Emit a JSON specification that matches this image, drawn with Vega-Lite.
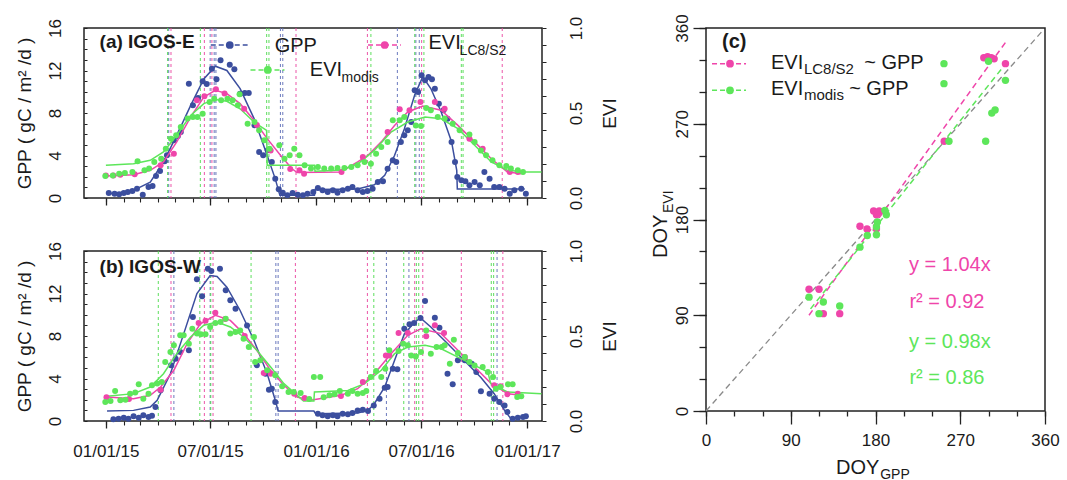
{
"$schema":"https://vega.github.io/schema/vega-lite/v6.json",
"background":"white",
"padding":{"left":14,"top":13,"right":5,"bottom":0},
"config":{
 "font":"Liberation Sans",
 "axis":{"domain":false,"grid":false,"labelFont":"Liberation Sans","titleFont":"Liberation Sans","labelColor":"#1a1a1a","titleColor":"#1a1a1a","tickColor":"#222222","titleFontWeight":"normal","labelOverlap":false,"labelFlush":false,"labelBound":false},
 "view":{"stroke":"#222222","strokeWidth":1.5},
 "text":{"font":"Liberation Sans","color":"#1a1a1a"}
},
"datasets":{
 "aG":[{"d":"2015-01-06","v":0.47},{"d":"2015-01-16","v":0.41},{"d":"2015-01-24","v":0.35},{"d":"2015-02-01","v":0.47},{"d":"2015-02-08","v":0.56},{"d":"2015-02-16","v":0.66},{"d":"2015-02-24","v":0.88},{"d":"2015-03-06","v":0.31},{"d":"2015-03-16","v":1.04},{"d":"2015-03-23","v":1.13},{"d":"2015-03-29","v":2.07},{"d":"2015-04-05","v":2.54},{"d":"2015-04-13","v":3.45},{"d":"2015-04-17","v":4.02},{"d":"2015-04-29","v":5.43},{"d":"2015-05-06","v":5.84},{"d":"2015-05-11","v":6.21},{"d":"2015-05-25","v":10.76},{"d":"2015-06-01","v":8.72},{"d":"2015-06-10","v":9.41},{"d":"2015-06-18","v":10.98},{"d":"2015-06-25","v":10.73},{"d":"2015-07-04","v":12.17},{"d":"2015-07-12","v":11.17},{"d":"2015-07-19","v":12.96},{"d":"2015-08-04","v":12.55},{"d":"2015-08-12","v":12.11},{"d":"2015-08-22","v":9.82},{"d":"2015-08-30","v":9.88},{"d":"2015-09-06","v":9.88},{"d":"2015-09-16","v":6.84},{"d":"2015-09-24","v":4.33},{"d":"2015-10-01","v":4.02},{"d":"2015-10-09","v":4.49},{"d":"2015-10-16","v":3.39},{"d":"2015-10-22","v":1.82},{"d":"2015-10-28","v":0.82},{"d":"2015-11-04","v":0.5},{"d":"2015-11-12","v":0.25},{"d":"2015-11-21","v":0.47},{"d":"2015-11-30","v":0.31},{"d":"2015-12-09","v":0.25},{"d":"2015-12-17","v":0.4},{"d":"2015-12-27","v":0.56},{"d":"2016-01-04","v":0.94},{"d":"2016-01-12","v":0.72},{"d":"2016-01-21","v":0.56},{"d":"2016-01-30","v":0.72},{"d":"2016-02-07","v":0.5},{"d":"2016-02-16","v":0.72},{"d":"2016-02-25","v":0.88},{"d":"2016-03-04","v":1.04},{"d":"2016-03-13","v":0.72},{"d":"2016-03-22","v":0.56},{"d":"2016-03-30","v":0.66},{"d":"2016-04-08","v":0.88},{"d":"2016-04-17","v":1.51},{"d":"2016-04-26","v":1.57},{"d":"2016-05-04","v":2.76},{"d":"2016-05-13","v":3.55},{"d":"2016-05-19","v":3.39},{"d":"2016-05-27","v":5.27},{"d":"2016-06-02","v":5.9},{"d":"2016-06-08","v":6.37},{"d":"2016-06-14","v":7.15},{"d":"2016-06-20","v":10.13},{"d":"2016-06-26","v":9.98},{"d":"2016-07-02","v":11.55},{"d":"2016-07-08","v":11.08},{"d":"2016-07-14","v":11.39},{"d":"2016-07-20","v":11.17},{"d":"2016-07-25","v":10.29},{"d":"2016-08-01","v":8.88},{"d":"2016-08-09","v":8.25},{"d":"2016-08-16","v":7.47},{"d":"2016-08-23","v":5.27},{"d":"2016-08-29","v":3.39},{"d":"2016-09-02","v":1.98},{"d":"2016-09-09","v":1.66},{"d":"2016-09-16","v":1.57},{"d":"2016-09-23","v":1.19},{"d":"2016-10-02","v":1.51},{"d":"2016-10-11","v":1.19},{"d":"2016-10-19","v":2.45},{"d":"2016-10-28","v":1.82},{"d":"2016-11-05","v":1.04},{"d":"2016-11-14","v":1.04},{"d":"2016-11-23","v":0.88},{"d":"2016-12-02","v":0.4},{"d":"2016-12-10","v":0.72},{"d":"2016-12-22","v":0.88},{"d":"2016-12-30","v":0.4}],
 "aL":[{"d":"2015-01-01","v":0.133},{"d":"2015-01-14","v":0.133},{"d":"2015-01-26","v":0.137},{"d":"2015-02-20","v":0.14},{"d":"2015-04-06","v":0.192},{"d":"2015-04-29","v":0.261},{"d":"2015-06-08","v":0.575},{"d":"2015-06-21","v":0.598},{"d":"2015-07-11","v":0.639},{"d":"2015-07-26","v":0.614},{"d":"2015-08-29","v":0.525},{"d":"2015-09-20","v":0.43},{"d":"2015-10-14","v":0.28},{"d":"2015-11-17","v":0.17},{"d":"2015-12-03","v":0.163},{"d":"2015-12-11","v":0.143},{"d":"2016-02-14","v":0.153},{"d":"2016-03-22","v":0.241},{"d":"2016-05-04","v":0.388},{"d":"2016-05-25","v":0.522},{"d":"2016-06-11","v":0.516},{"d":"2016-06-30","v":0.565},{"d":"2016-07-25","v":0.565},{"d":"2016-08-11","v":0.525},{"d":"2016-09-23","v":0.349},{"d":"2016-10-16","v":0.29},{"d":"2016-12-02","v":0.153},{"d":"2016-12-16","v":0.153}],
 "aM":[{"d":"2014-12-31","v":0.129},{"d":"2015-01-13","v":0.133},{"d":"2015-01-24","v":0.143},{"d":"2015-02-03","v":0.147},{"d":"2015-02-16","v":0.153},{"d":"2015-02-25","v":0.216},{"d":"2015-03-09","v":0.163},{"d":"2015-03-17","v":0.173},{"d":"2015-03-26","v":0.212},{"d":"2015-04-07","v":0.231},{"d":"2015-04-15","v":0.29},{"d":"2015-04-24","v":0.349},{"d":"2015-05-03","v":0.369},{"d":"2015-05-11","v":0.418},{"d":"2015-05-23","v":0.467},{"d":"2015-06-01","v":0.476},{"d":"2015-06-09","v":0.476},{"d":"2015-06-18","v":0.496},{"d":"2015-06-30","v":0.565},{"d":"2015-07-08","v":0.584},{"d":"2015-07-20","v":0.575},{"d":"2015-07-31","v":0.584},{"d":"2015-08-09","v":0.575},{"d":"2015-08-18","v":0.545},{"d":"2015-08-21","v":0.61},{"d":"2015-09-04","v":0.437},{"d":"2015-09-16","v":0.447},{"d":"2015-09-24","v":0.398},{"d":"2015-10-03","v":0.339},{"d":"2015-10-12","v":0.29},{"d":"2015-10-29","v":0.31},{"d":"2015-11-07","v":0.231},{"d":"2015-11-16","v":0.251},{"d":"2015-11-24","v":0.29},{"d":"2015-12-03","v":0.251},{"d":"2015-12-12","v":0.192},{"d":"2015-12-23","v":0.173},{"d":"2016-01-04","v":0.182},{"d":"2016-01-15","v":0.173},{"d":"2016-01-27","v":0.173},{"d":"2016-02-07","v":0.176},{"d":"2016-02-19","v":0.176},{"d":"2016-03-02","v":0.182},{"d":"2016-03-13","v":0.192},{"d":"2016-03-25","v":0.212},{"d":"2016-04-05","v":0.202},{"d":"2016-04-14","v":0.261},{"d":"2016-04-23","v":0.3},{"d":"2016-05-04","v":0.329},{"d":"2016-05-13","v":0.457},{"d":"2016-05-25","v":0.457},{"d":"2016-06-02","v":0.476},{"d":"2016-06-22","v":0.427},{"d":"2016-07-01","v":0.424},{"d":"2016-07-10","v":0.529},{"d":"2016-07-18","v":0.516},{"d":"2016-07-30","v":0.476},{"d":"2016-08-11","v":0.467},{"d":"2016-08-25","v":0.437},{"d":"2016-09-06","v":0.398},{"d":"2016-09-23","v":0.373},{"d":"2016-10-02","v":0.329},{"d":"2016-10-13","v":0.28},{"d":"2016-10-22","v":0.251},{"d":"2016-11-02","v":0.222},{"d":"2016-11-14","v":0.192},{"d":"2016-11-26","v":0.188},{"d":"2016-12-04","v":0.173},{"d":"2016-12-16","v":0.163},{"d":"2016-12-25","v":0.153}],
 "faG":[{"d":"2015-01-03","v":0.41},{"d":"2015-01-25","v":0.5},{"d":"2015-02-18","v":0.72},{"d":"2015-03-19","v":1.5},{"d":"2015-04-11","v":3.4},{"d":"2015-05-04","v":5.9},{"d":"2015-05-28","v":8.7},{"d":"2015-06-20","v":11.2},{"d":"2015-07-10","v":12.4},{"d":"2015-07-30","v":12.0},{"d":"2015-08-22","v":10.3},{"d":"2015-09-15","v":7.5},{"d":"2015-10-08","v":4.0},{"d":"2015-10-22","v":1.8},{"d":"2015-10-30","v":0.25},{"d":"2015-12-29","v":0.25},{"d":"2015-12-30","v":0.8},{"d":"2016-03-13","v":0.85},{"d":"2016-04-11","v":1.25},{"d":"2016-04-29","v":2.13},{"d":"2016-05-16","v":4.0},{"d":"2016-06-02","v":6.5},{"d":"2016-06-20","v":9.7},{"d":"2016-07-04","v":11.4},{"d":"2016-07-18","v":10.3},{"d":"2016-08-05","v":8.1},{"d":"2016-08-23","v":5.3},{"d":"2016-09-01","v":2.6},{"d":"2016-09-02","v":0.85},{"d":"2016-12-28","v":0.85}],
 "faL":[{"d":"2015-01-01","v":0.129},{"d":"2015-02-18","v":0.137},{"d":"2015-03-19","v":0.163},{"d":"2015-04-11","v":0.212},{"d":"2015-05-04","v":0.33},{"d":"2015-05-28","v":0.476},{"d":"2015-06-20","v":0.594},{"d":"2015-07-10","v":0.633},{"d":"2015-07-30","v":0.614},{"d":"2015-08-22","v":0.555},{"d":"2015-09-15","v":0.457},{"d":"2015-10-08","v":0.349},{"d":"2015-10-31","v":0.251},{"d":"2015-11-20","v":0.172},{"d":"2015-11-29","v":0.15},{"d":"2016-02-13","v":0.153},{"d":"2016-03-13","v":0.212},{"d":"2016-03-31","v":0.251},{"d":"2016-04-23","v":0.33},{"d":"2016-05-16","v":0.427},{"d":"2016-06-08","v":0.506},{"d":"2016-07-04","v":0.541},{"d":"2016-08-05","v":0.516},{"d":"2016-09-03","v":0.427},{"d":"2016-10-02","v":0.33},{"d":"2016-10-31","v":0.231},{"d":"2016-11-28","v":0.153},{"d":"2016-12-22","v":0.143}],
 "faM":[{"d":"2015-01-01","v":0.192},{"d":"2015-02-18","v":0.202},{"d":"2015-03-19","v":0.222},{"d":"2015-04-11","v":0.271},{"d":"2015-05-04","v":0.369},{"d":"2015-05-28","v":0.486},{"d":"2015-06-20","v":0.555},{"d":"2015-07-10","v":0.58},{"d":"2015-07-30","v":0.569},{"d":"2015-08-22","v":0.525},{"d":"2015-09-15","v":0.447},{"d":"2015-10-07","v":0.398},{"d":"2015-10-08","v":0.192},{"d":"2015-12-29","v":0.192},{"d":"2015-12-30","v":0.157},{"d":"2016-02-13","v":0.165},{"d":"2016-03-13","v":0.2},{"d":"2016-04-11","v":0.28},{"d":"2016-05-10","v":0.388},{"d":"2016-06-08","v":0.447},{"d":"2016-07-08","v":0.476},{"d":"2016-08-05","v":0.466},{"d":"2016-09-03","v":0.408},{"d":"2016-10-02","v":0.31},{"d":"2016-10-31","v":0.212},{"d":"2016-11-28","v":0.163},{"d":"2016-12-28","v":0.153},{"d":"2017-01-26","v":0.153}],
 "pa":[{"s":"GPP","d":"2015-04-20"},{"s":"GPP","d":"2015-07-01"},{"s":"GPP","d":"2015-07-08"},{"s":"GPP","d":"2015-07-11"},{"s":"GPP","d":"2015-10-31"},{"s":"GPP","d":"2015-11-04"},{"s":"GPP","d":"2016-05-21"},{"s":"GPP","d":"2016-06-22"},{"s":"GPP","d":"2016-06-28"},{"s":"LC8","d":"2015-04-24"},{"s":"LC8","d":"2015-06-21"},{"s":"LC8","d":"2015-07-04"},{"s":"LC8","d":"2015-11-27"},{"s":"LC8","d":"2016-03-30"},{"s":"LC8","d":"2016-07-02"},{"s":"LC8","d":"2016-11-19"},{"s":"MODIS","d":"2015-04-18"},{"s":"MODIS","d":"2015-06-14"},{"s":"MODIS","d":"2015-10-07"},{"s":"MODIS","d":"2015-10-11"},{"s":"MODIS","d":"2016-04-05"},{"s":"MODIS","d":"2016-06-20"},{"s":"MODIS","d":"2016-07-06"},{"s":"MODIS","d":"2016-09-09"},{"s":"MODIS","d":"2016-09-12"}],
 "bG":[{"d":"2015-01-14","v":0.16},{"d":"2015-01-23","v":0.22},{"d":"2015-02-01","v":0.31},{"d":"2015-02-09","v":0.22},{"d":"2015-02-18","v":0.44},{"d":"2015-02-27","v":0.31},{"d":"2015-03-07","v":0.53},{"d":"2015-03-16","v":0.38},{"d":"2015-03-22","v":0.5},{"d":"2015-03-28","v":1.32},{"d":"2015-04-06","v":2.89},{"d":"2015-04-24","v":5.24},{"d":"2015-05-02","v":5.86},{"d":"2015-05-10","v":6.49},{"d":"2015-05-25","v":6.65},{"d":"2015-06-01","v":9.79},{"d":"2015-06-08","v":13.33},{"d":"2015-06-17","v":11.73},{"d":"2015-06-27","v":14.33},{"d":"2015-07-03","v":14.12},{"d":"2015-07-18","v":14.33},{"d":"2015-07-28","v":12.3},{"d":"2015-08-05","v":11.36},{"d":"2015-08-14","v":10.57},{"d":"2015-09-03","v":9.0},{"d":"2015-09-20","v":5.24},{"d":"2015-10-05","v":4.45},{"d":"2015-10-11","v":2.95},{"d":"2015-10-16","v":3.04},{"d":"2015-10-22","v":1.79},{"d":"2016-01-04","v":0.69},{"d":"2016-01-12","v":0.53},{"d":"2016-01-21","v":0.44},{"d":"2016-01-30","v":0.53},{"d":"2016-02-07","v":0.44},{"d":"2016-02-16","v":0.69},{"d":"2016-02-25","v":0.63},{"d":"2016-03-04","v":0.75},{"d":"2016-03-13","v":1.0},{"d":"2016-03-22","v":1.07},{"d":"2016-03-31","v":0.94},{"d":"2016-04-10","v":1.47},{"d":"2016-04-20","v":2.1},{"d":"2016-04-29","v":3.14},{"d":"2016-05-04","v":3.2},{"d":"2016-05-13","v":4.92},{"d":"2016-05-21","v":4.86},{"d":"2016-06-02","v":8.69},{"d":"2016-06-11","v":9.1},{"d":"2016-06-19","v":9.22},{"d":"2016-06-30","v":9.69},{"d":"2016-07-08","v":11.29},{"d":"2016-07-25","v":9.72},{"d":"2016-08-02","v":8.78},{"d":"2016-08-16","v":4.45},{"d":"2016-08-25","v":3.45},{"d":"2016-09-03","v":5.71},{"d":"2016-09-15","v":5.71},{"d":"2016-09-27","v":5.39},{"d":"2016-10-05","v":4.61},{"d":"2016-10-13","v":2.79},{"d":"2016-10-28","v":2.57},{"d":"2016-11-05","v":2.1},{"d":"2016-11-14","v":1.79},{"d":"2016-11-23","v":1.47},{"d":"2016-11-28","v":0.85},{"d":"2016-12-07","v":0.22},{"d":"2016-12-16","v":0.31},{"d":"2016-12-25","v":0.38},{"d":"2016-12-30","v":0.44}],
 "bL":[{"d":"2015-01-02","v":0.14},{"d":"2015-02-10","v":0.13},{"d":"2015-04-06","v":0.184},{"d":"2015-06-11","v":0.576},{"d":"2015-06-23","v":0.59},{"d":"2015-07-10","v":0.637},{"d":"2015-07-27","v":0.6},{"d":"2015-08-30","v":0.5},{"d":"2015-10-02","v":0.282},{"d":"2015-10-14","v":0.278},{"d":"2015-11-24","v":0.16},{"d":"2015-12-12","v":0.135},{"d":"2016-02-13","v":0.147},{"d":"2016-03-22","v":0.229},{"d":"2016-05-01","v":0.386},{"d":"2016-05-07","v":0.386},{"d":"2016-05-23","v":0.518},{"d":"2016-06-08","v":0.518},{"d":"2016-07-10","v":0.498},{"d":"2016-07-25","v":0.563},{"d":"2016-08-10","v":0.518},{"d":"2016-09-15","v":0.376},{"d":"2016-11-05","v":0.21},{"d":"2016-11-16","v":0.204},{"d":"2016-11-28","v":0.157},{"d":"2016-12-16","v":0.161}],
 "bM":[{"d":"2014-12-31","v":0.112},{"d":"2015-01-09","v":0.118},{"d":"2015-01-17","v":0.176},{"d":"2015-01-26","v":0.122},{"d":"2015-02-04","v":0.125},{"d":"2015-02-12","v":0.161},{"d":"2015-02-21","v":0.167},{"d":"2015-02-27","v":0.216},{"d":"2015-03-07","v":0.131},{"d":"2015-03-16","v":0.161},{"d":"2015-03-22","v":0.21},{"d":"2015-03-31","v":0.22},{"d":"2015-04-08","v":0.229},{"d":"2015-04-14","v":0.347},{"d":"2015-04-23","v":0.406},{"d":"2015-04-29","v":0.445},{"d":"2015-05-10","v":0.504},{"d":"2015-05-16","v":0.504},{"d":"2015-05-25","v":0.455},{"d":"2015-05-31","v":0.543},{"d":"2015-06-08","v":0.514},{"d":"2015-06-15","v":0.51},{"d":"2015-06-23","v":0.51},{"d":"2015-07-01","v":0.553},{"d":"2015-07-10","v":0.576},{"d":"2015-07-19","v":0.582},{"d":"2015-07-28","v":0.602},{"d":"2015-08-05","v":0.514},{"d":"2015-08-14","v":0.524},{"d":"2015-08-22","v":0.533},{"d":"2015-08-28","v":0.484},{"d":"2015-09-06","v":0.435},{"d":"2015-09-15","v":0.494},{"d":"2015-09-17","v":0.347},{"d":"2015-09-26","v":0.357},{"d":"2015-10-08","v":0.298},{"d":"2015-10-22","v":0.269},{"d":"2015-11-03","v":0.204},{"d":"2015-11-14","v":0.171},{"d":"2015-11-23","v":0.171},{"d":"2015-12-05","v":0.165},{"d":"2015-12-20","v":0.13},{"d":"2015-12-28","v":0.259},{"d":"2016-01-08","v":0.259},{"d":"2016-01-14","v":0.14},{"d":"2016-01-24","v":0.151},{"d":"2016-02-02","v":0.157},{"d":"2016-02-11","v":0.176},{"d":"2016-02-25","v":0.161},{"d":"2016-03-04","v":0.176},{"d":"2016-03-13","v":0.161},{"d":"2016-03-22","v":0.165},{"d":"2016-03-28","v":0.176},{"d":"2016-04-05","v":0.259},{"d":"2016-04-14","v":0.294},{"d":"2016-04-23","v":0.259},{"d":"2016-04-30","v":0.308},{"d":"2016-05-07","v":0.416},{"d":"2016-05-23","v":0.412},{"d":"2016-05-31","v":0.455},{"d":"2016-06-08","v":0.445},{"d":"2016-06-14","v":0.386},{"d":"2016-06-22","v":0.38},{"d":"2016-07-01","v":0.406},{"d":"2016-07-10","v":0.533},{"d":"2016-07-18","v":0.396},{"d":"2016-07-28","v":0.435},{"d":"2016-08-06","v":0.435},{"d":"2016-08-11","v":0.445},{"d":"2016-08-20","v":0.337},{"d":"2016-08-27","v":0.478},{"d":"2016-09-03","v":0.4},{"d":"2016-09-15","v":0.376},{"d":"2016-09-23","v":0.347},{"d":"2016-10-02","v":0.327},{"d":"2016-10-16","v":0.318},{"d":"2016-10-25","v":0.288},{"d":"2016-11-03","v":0.259},{"d":"2016-11-08","v":0.19},{"d":"2016-11-16","v":0.2},{"d":"2016-11-29","v":0.216},{"d":"2016-12-07","v":0.216},{"d":"2016-12-15","v":0.141},{"d":"2016-12-22","v":0.145}],
 "fbG":[{"d":"2015-01-03","v":0.94},{"d":"2015-02-18","v":1.0},{"d":"2015-03-19","v":1.32},{"d":"2015-03-31","v":1.95},{"d":"2015-04-23","v":4.45},{"d":"2015-05-16","v":8.2},{"d":"2015-06-08","v":12.0},{"d":"2015-07-01","v":13.7},{"d":"2015-07-13","v":13.6},{"d":"2015-07-30","v":12.6},{"d":"2015-08-22","v":10.4},{"d":"2015-09-15","v":7.6},{"d":"2015-10-08","v":4.45},{"d":"2015-10-22","v":1.95},{"d":"2015-10-27","v":0.94},{"d":"2015-12-28","v":0.94},{"d":"2015-12-31","v":0.69},{"d":"2016-03-13","v":0.75},{"d":"2016-03-31","v":1.0},{"d":"2016-04-11","v":1.63},{"d":"2016-04-29","v":3.2},{"d":"2016-05-16","v":5.7},{"d":"2016-06-02","v":8.2},{"d":"2016-06-20","v":9.3},{"d":"2016-06-30","v":9.7},{"d":"2016-07-18","v":8.85},{"d":"2016-08-16","v":7.3},{"d":"2016-09-14","v":5.7},{"d":"2016-10-13","v":4.1},{"d":"2016-11-05","v":2.57},{"d":"2016-11-23","v":1.0},{"d":"2016-12-04","v":0.22},{"d":"2016-12-10","v":0.22}],
 "fbL":[{"d":"2015-01-03","v":0.141},{"d":"2015-02-18","v":0.131},{"d":"2015-03-19","v":0.151},{"d":"2015-04-06","v":0.2},{"d":"2015-04-29","v":0.298},{"d":"2015-05-22","v":0.455},{"d":"2015-06-14","v":0.572},{"d":"2015-07-10","v":0.622},{"d":"2015-08-05","v":0.592},{"d":"2015-08-28","v":0.514},{"d":"2015-09-20","v":0.416},{"d":"2015-10-14","v":0.298},{"d":"2015-11-06","v":0.21},{"d":"2015-11-29","v":0.141},{"d":"2015-12-22","v":0.122},{"d":"2016-02-13","v":0.151},{"d":"2016-03-13","v":0.19},{"d":"2016-04-11","v":0.278},{"d":"2016-05-10","v":0.396},{"d":"2016-06-08","v":0.504},{"d":"2016-07-01","v":0.543},{"d":"2016-08-05","v":0.514},{"d":"2016-09-03","v":0.416},{"d":"2016-10-02","v":0.318},{"d":"2016-10-31","v":0.22},{"d":"2016-11-28","v":0.161},{"d":"2016-12-22","v":0.151}],
 "fbM":[{"d":"2015-01-03","v":0.145},{"d":"2015-02-18","v":0.161},{"d":"2015-03-19","v":0.2},{"d":"2015-04-11","v":0.278},{"d":"2015-05-04","v":0.396},{"d":"2015-05-28","v":0.494},{"d":"2015-06-20","v":0.563},{"d":"2015-07-13","v":0.582},{"d":"2015-08-05","v":0.553},{"d":"2015-08-28","v":0.494},{"d":"2015-09-20","v":0.416},{"d":"2015-10-14","v":0.318},{"d":"2015-11-06","v":0.22},{"d":"2015-11-29","v":0.151},{"d":"2015-12-10","v":0.118},{"d":"2015-12-28","v":0.118},{"d":"2015-12-29","v":0.171},{"d":"2016-02-25","v":0.18},{"d":"2016-03-25","v":0.22},{"d":"2016-04-23","v":0.298},{"d":"2016-05-16","v":0.396},{"d":"2016-06-08","v":0.435},{"d":"2016-07-08","v":0.445},{"d":"2016-08-05","v":0.425},{"d":"2016-09-03","v":0.376},{"d":"2016-10-02","v":0.327},{"d":"2016-10-25","v":0.288},{"d":"2016-10-30","v":0.22},{"d":"2016-11-28","v":0.171},{"d":"2017-01-26","v":0.161}],
 "pb":[{"s":"GPP","d":"2015-04-29"},{"s":"GPP","d":"2015-07-01"},{"s":"GPP","d":"2015-10-23"},{"s":"GPP","d":"2015-10-27"},{"s":"GPP","d":"2016-05-02"},{"s":"GPP","d":"2016-06-10"},{"s":"GPP","d":"2016-11-10"},{"s":"LC8","d":"2015-04-24"},{"s":"LC8","d":"2015-06-21"},{"s":"LC8","d":"2015-07-06"},{"s":"LC8","d":"2015-11-26"},{"s":"LC8","d":"2016-03-30"},{"s":"LC8","d":"2016-06-20"},{"s":"LC8","d":"2016-07-04"},{"s":"LC8","d":"2016-09-09"},{"s":"LC8","d":"2016-11-20"},{"s":"MODIS","d":"2015-04-02"},{"s":"MODIS","d":"2015-06-13"},{"s":"MODIS","d":"2015-07-02"},{"s":"MODIS","d":"2015-09-10"},{"s":"MODIS","d":"2016-04-10"},{"s":"MODIS","d":"2016-06-01"},{"s":"MODIS","d":"2016-06-23"},{"s":"MODIS","d":"2016-06-27"},{"s":"MODIS","d":"2016-10-31"},{"s":"MODIS","d":"2016-11-04"}],
 "cL":[{"g":295,"e":332},{"g":299,"e":333},{"g":303,"e":332},{"g":306,"e":331},{"g":318,"e":326.5},{"g":253,"e":253.5},{"g":178,"e":188},{"g":184,"e":188},{"g":181,"e":184.5},{"g":163.5,"e":173.6},{"g":171,"e":171},{"g":181,"e":171},{"g":109.4,"e":114.4},{"g":120,"e":114.4},{"g":124.6,"e":91.5},{"g":142,"e":91.5}],
 "cM":[{"g":252.7,"e":326.5},{"g":252.7,"e":307.7},{"g":300,"e":328.7},{"g":318,"e":310.8},{"g":303.5,"e":280},{"g":307,"e":283},{"g":297,"e":253.5},{"g":258,"e":253.5},{"g":191.5,"e":184.5},{"g":190,"e":188.6},{"g":182,"e":177.6},{"g":181,"e":173},{"g":181,"e":165.7},{"g":171.3,"e":165},{"g":163.5,"e":154},{"g":109.4,"e":107},{"g":124.6,"e":102.5},{"g":120,"e":91.5},{"g":142,"e":98.7}],
 "rL":[{"g":109.4,"e":90},{"g":319.6,"e":348.4}],
 "rM":[{"g":111,"e":96},{"g":315.4,"e":323.3}],
 "r1":[{"g":0,"e":0},{"g":357,"e":357}]
},
"hconcat":[
 {"vconcat":[
  {"width":458,"height":170,
   "layer":[
    {"data":{"name":"pa"},"mark":{"type":"rule","strokeDash":[3,3],"strokeWidth":1.1,"opacity":0.85},
     "encoding":{"x":{"field":"d","type":"temporal","scale":{"domain":[{"year":2014,"month":11,"date":24},{"year":2017,"month":1,"date":27}]},
       "axis":{"orient":"bottom","values":[{"year":2015,"month":1,"date":1},{"year":2015,"month":7,"date":1},{"year":2016,"month":1,"date":1},{"year":2016,"month":7,"date":1},{"year":2017,"month":1,"date":1}],"labels":false,"tickSize":7,"tickWidth":1.3,"title":null}},
      "color":{"field":"s","type":"nominal","scale":{"domain":["GPP","LC8","MODIS"],"range":["#6070b8","#ea4aa2","#52dc52"]},"legend":null}}},
    {"data":{"name":"faG"},"mark":{"type":"line","color":"#3b4e9e","strokeWidth":1.5},
     "encoding":{"x":{"field":"d","type":"temporal","axis":null},
      "y":{"field":"v","type":"quantitative","scale":{"domain":[0,16],"nice":false},
       "axis":{"orient":"left","values":[0,1,2,3,4,5,6,7,8,9,10,11,12,13,14,15,16],"labelExpr":"datum.value % 4 === 0 ? datum.label : ''","tickSize":-3,"labelAngle":270,"labelAlign":"center","labelBaseline":"alphabetic","labelPadding":27,"labelFontSize":17,"title":"GPP ( gC / m² /d )","titleFontSize":19,"titlePadding":12}}}},
    {"data":{"name":"aG"},"mark":{"type":"circle","color":"#3b4e9e","size":36,"opacity":1},
     "encoding":{"x":{"field":"d","type":"temporal","axis":null},"y":{"field":"v","type":"quantitative","scale":{"domain":[0,16],"nice":false},"axis":null}}},
    {"data":{"name":"faL"},"mark":{"type":"line","color":"#ef45aa","strokeWidth":1.5},
     "encoding":{"x":{"field":"d","type":"temporal",
       "axis":{"orient":"bottom","values":[{"year":2015,"month":1,"date":1},{"year":2015,"month":2,"date":1},{"year":2015,"month":3,"date":1},{"year":2015,"month":4,"date":1},{"year":2015,"month":5,"date":1},{"year":2015,"month":6,"date":1},{"year":2015,"month":7,"date":1},{"year":2015,"month":8,"date":1},{"year":2015,"month":9,"date":1},{"year":2015,"month":10,"date":1},{"year":2015,"month":11,"date":1},{"year":2015,"month":12,"date":1},{"year":2016,"month":1,"date":1},{"year":2016,"month":2,"date":1},{"year":2016,"month":3,"date":1},{"year":2016,"month":4,"date":1},{"year":2016,"month":5,"date":1},{"year":2016,"month":6,"date":1},{"year":2016,"month":7,"date":1},{"year":2016,"month":8,"date":1},{"year":2016,"month":9,"date":1},{"year":2016,"month":10,"date":1},{"year":2016,"month":11,"date":1},{"year":2016,"month":12,"date":1},{"year":2017,"month":1,"date":1}],"labels":false,"tickSize":4,"tickWidth":1.1,"title":null}},
      "y":{"field":"v","type":"quantitative","scale":{"domain":[0,1],"nice":false},
       "axis":{"orient":"right","values":[0,0.1,0.2,0.3,0.4,0.5,0.6,0.7,0.8,0.9,1],"format":".1f","labelExpr":"datum.value === 0 || datum.value === 0.5 || datum.value === 1 ? datum.label : ''","tickSize":4,"labelAngle":270,"labelAlign":"center","labelBaseline":"top","labelPadding":22,"labelFontSize":17,"title":"EVI","titleFontSize":19,"titleAngle":270,"titlePadding":35}}}},
    {"data":{"name":"faM"},"mark":{"type":"line","color":"#5de65a","strokeWidth":1.5},
     "encoding":{"x":{"field":"d","type":"temporal","axis":null},"y":{"field":"v","type":"quantitative","scale":{"domain":[0,1],"nice":false},"axis":null}}},
    {"data":{"name":"aL"},"mark":{"type":"circle","color":"#ef45aa","size":36,"opacity":1},
     "encoding":{"x":{"field":"d","type":"temporal","axis":null},"y":{"field":"v","type":"quantitative","scale":{"domain":[0,1],"nice":false},"axis":null}}},
    {"data":{"name":"aM"},"mark":{"type":"circle","color":"#5de65a","size":36,"opacity":1},
     "encoding":{"x":{"field":"d","type":"temporal","axis":null},"y":{"field":"v","type":"quantitative","scale":{"domain":[0,1],"nice":false},"axis":null}}},
    {"data":{"values":[{}]},"mark":{"type":"text","text":"(a) IGOS-E","fontSize":19,"fontWeight":"bold","align":"left","baseline":"middle"},
     "encoding":{"x":{"datum":{"year":2014,"month":12,"date":21},"type":"temporal","axis":null},"y":{"datum":14.7,"type":"quantitative","scale":{"domain":[0,16],"nice":false},"axis":null}}},
    {"data":{"values":[{}]},"mark":{"type":"rule","color":"#3b4e9e","strokeDash":[5,3],"strokeWidth":1.5},
     "encoding":{"x":{"datum":{"year":2015,"month":7,"date":2},"type":"temporal","axis":null},"x2":{"datum":{"year":2015,"month":9,"date":4}},"y":{"datum":14.4,"type":"quantitative","scale":{"domain":[0,16],"nice":false},"axis":null}}},
    {"data":{"values":[{}]},"mark":{"type":"circle","color":"#3b4e9e","size":60,"opacity":1},
     "encoding":{"x":{"datum":{"year":2015,"month":8,"date":4},"type":"temporal","axis":null},"y":{"datum":14.4,"type":"quantitative","scale":{"domain":[0,16],"nice":false},"axis":null}}},
    {"data":{"values":[{}]},"mark":{"type":"text","text":"GPP","fontSize":20,"align":"left","baseline":"middle"},
     "encoding":{"x":{"datum":{"year":2015,"month":10,"date":21},"type":"temporal","axis":null},"y":{"datum":14.3,"type":"quantitative","scale":{"domain":[0,16],"nice":false},"axis":null}}},
    {"data":{"values":[{}]},"mark":{"type":"rule","color":"#5de65a","strokeDash":[5,3],"strokeWidth":1.5},
     "encoding":{"x":{"datum":{"year":2015,"month":9,"date":9},"type":"temporal","axis":null},"x2":{"datum":{"year":2015,"month":11,"date":7}},"y":{"datum":12.05,"type":"quantitative","scale":{"domain":[0,16],"nice":false},"axis":null}}},
    {"data":{"values":[{}]},"mark":{"type":"circle","color":"#5de65a","size":60,"opacity":1},
     "encoding":{"x":{"datum":{"year":2015,"month":10,"date":9},"type":"temporal","axis":null},"y":{"datum":12.05,"type":"quantitative","scale":{"domain":[0,16],"nice":false},"axis":null}}},
    {"data":{"values":[{}]},"mark":{"type":"text","text":"EVI","fontSize":20,"align":"left","baseline":"middle"},
     "encoding":{"x":{"datum":{"year":2015,"month":12,"date":21},"type":"temporal","axis":null},"y":{"datum":12.05,"type":"quantitative","scale":{"domain":[0,16],"nice":false},"axis":null}}},
    {"data":{"values":[{}]},"mark":{"type":"text","text":"modis","fontSize":14,"align":"left","baseline":"middle"},
     "encoding":{"x":{"datum":{"year":2016,"month":2,"date":14},"type":"temporal","axis":null},"y":{"datum":11.3,"type":"quantitative","scale":{"domain":[0,16],"nice":false},"axis":null}}},
    {"data":{"values":[{}]},"mark":{"type":"rule","color":"#ef45aa","strokeDash":[5,3],"strokeWidth":1.5},
     "encoding":{"x":{"datum":{"year":2016,"month":3,"date":31},"type":"temporal","axis":null},"x2":{"datum":{"year":2016,"month":5,"date":27}},"y":{"datum":14.4,"type":"quantitative","scale":{"domain":[0,16],"nice":false},"axis":null}}},
    {"data":{"values":[{}]},"mark":{"type":"circle","color":"#ef45aa","size":60,"opacity":1},
     "encoding":{"x":{"datum":{"year":2016,"month":4,"date":29},"type":"temporal","axis":null},"y":{"datum":14.4,"type":"quantitative","scale":{"domain":[0,16],"nice":false},"axis":null}}},
    {"data":{"values":[{}]},"mark":{"type":"text","text":"EVI","fontSize":20,"align":"left","baseline":"middle"},
     "encoding":{"x":{"datum":{"year":2016,"month":7,"date":14},"type":"temporal","axis":null},"y":{"datum":14.59,"type":"quantitative","scale":{"domain":[0,16],"nice":false},"axis":null}}},
    {"data":{"values":[{}]},"mark":{"type":"text","text":"LC8/S2","fontSize":14,"align":"left","baseline":"middle"},
     "encoding":{"x":{"datum":{"year":2016,"month":9,"date":6},"type":"temporal","axis":null},"y":{"datum":13.84,"type":"quantitative","scale":{"domain":[0,16],"nice":false},"axis":null}}}
   ],
   "resolve":{"scale":{"y":"independent"},"axis":{"x":"independent","y":"independent"}}
  },
  {"width":458,"height":170,
   "layer":[
    {"data":{"name":"pb"},"mark":{"type":"rule","strokeDash":[3,3],"strokeWidth":1.1,"opacity":0.85},
     "encoding":{"x":{"field":"d","type":"temporal","scale":{"domain":[{"year":2014,"month":11,"date":24},{"year":2017,"month":1,"date":27}]},
       "axis":{"orient":"bottom","values":[{"year":2015,"month":1,"date":1},{"year":2015,"month":7,"date":1},{"year":2016,"month":1,"date":1},{"year":2016,"month":7,"date":1},{"year":2017,"month":1,"date":1}],"format":"%m/%d/%y","labelFontSize":17,"labelPadding":15,"tickSize":7,"tickWidth":1.3,"title":null}},
      "color":{"field":"s","type":"nominal","scale":{"domain":["GPP","LC8","MODIS"],"range":["#6070b8","#ea4aa2","#52dc52"]},"legend":null}}},
    {"data":{"name":"fbG"},"mark":{"type":"line","color":"#3b4e9e","strokeWidth":1.5},
     "encoding":{"x":{"field":"d","type":"temporal","axis":null},
      "y":{"field":"v","type":"quantitative","scale":{"domain":[0,16],"nice":false},
       "axis":{"orient":"left","values":[0,1,2,3,4,5,6,7,8,9,10,11,12,13,14,15,16],"labelExpr":"datum.value % 4 === 0 ? datum.label : ''","tickSize":-3,"labelAngle":270,"labelAlign":"center","labelBaseline":"alphabetic","labelPadding":27,"labelFontSize":17,"title":"GPP ( gC / m² /d )","titleFontSize":19,"titlePadding":12}}}},
    {"data":{"name":"bG"},"mark":{"type":"circle","color":"#3b4e9e","size":36,"opacity":1},
     "encoding":{"x":{"field":"d","type":"temporal","axis":null},"y":{"field":"v","type":"quantitative","scale":{"domain":[0,16],"nice":false},"axis":null}}},
    {"data":{"name":"fbL"},"mark":{"type":"line","color":"#ef45aa","strokeWidth":1.5},
     "encoding":{"x":{"field":"d","type":"temporal",
       "axis":{"orient":"bottom","values":[{"year":2015,"month":1,"date":1},{"year":2015,"month":2,"date":1},{"year":2015,"month":3,"date":1},{"year":2015,"month":4,"date":1},{"year":2015,"month":5,"date":1},{"year":2015,"month":6,"date":1},{"year":2015,"month":7,"date":1},{"year":2015,"month":8,"date":1},{"year":2015,"month":9,"date":1},{"year":2015,"month":10,"date":1},{"year":2015,"month":11,"date":1},{"year":2015,"month":12,"date":1},{"year":2016,"month":1,"date":1},{"year":2016,"month":2,"date":1},{"year":2016,"month":3,"date":1},{"year":2016,"month":4,"date":1},{"year":2016,"month":5,"date":1},{"year":2016,"month":6,"date":1},{"year":2016,"month":7,"date":1},{"year":2016,"month":8,"date":1},{"year":2016,"month":9,"date":1},{"year":2016,"month":10,"date":1},{"year":2016,"month":11,"date":1},{"year":2016,"month":12,"date":1},{"year":2017,"month":1,"date":1}],"labels":false,"tickSize":4,"tickWidth":1.1,"title":null}},
      "y":{"field":"v","type":"quantitative","scale":{"domain":[0,1],"nice":false},
       "axis":{"orient":"right","values":[0,0.1,0.2,0.3,0.4,0.5,0.6,0.7,0.8,0.9,1],"format":".1f","labelExpr":"datum.value === 0 || datum.value === 0.5 || datum.value === 1 ? datum.label : ''","tickSize":4,"labelAngle":270,"labelAlign":"center","labelBaseline":"top","labelPadding":22,"labelFontSize":17,"title":"EVI","titleFontSize":19,"titleAngle":270,"titlePadding":35}}}},
    {"data":{"name":"fbM"},"mark":{"type":"line","color":"#5de65a","strokeWidth":1.5},
     "encoding":{"x":{"field":"d","type":"temporal","axis":null},"y":{"field":"v","type":"quantitative","scale":{"domain":[0,1],"nice":false},"axis":null}}},
    {"data":{"name":"bL"},"mark":{"type":"circle","color":"#ef45aa","size":36,"opacity":1},
     "encoding":{"x":{"field":"d","type":"temporal","axis":null},"y":{"field":"v","type":"quantitative","scale":{"domain":[0,1],"nice":false},"axis":null}}},
    {"data":{"name":"bM"},"mark":{"type":"circle","color":"#5de65a","size":36,"opacity":1},
     "encoding":{"x":{"field":"d","type":"temporal","axis":null},"y":{"field":"v","type":"quantitative","scale":{"domain":[0,1],"nice":false},"axis":null}}},
    {"data":{"values":[{}]},"mark":{"type":"text","text":"(b) IGOS-W","fontSize":19,"fontWeight":"bold","align":"left","baseline":"middle"},
     "encoding":{"x":{"datum":{"year":2014,"month":12,"date":21},"type":"temporal","axis":null},"y":{"datum":14.5,"type":"quantitative","scale":{"domain":[0,16],"nice":false},"axis":null}}}
   ],
   "resolve":{"scale":{"y":"independent"},"axis":{"x":"independent","y":"independent"}}
  }
 ],"spacing":53,"bounds":"flush"},
 {"width":339,"height":383,
  "layer":[
   {"data":{"name":"r1"},"mark":{"type":"line","color":"#8a8a8a","strokeDash":[6,4],"strokeWidth":1.3},
    "encoding":{"x":{"field":"g","type":"quantitative","scale":{"domain":[0,360],"nice":false},
      "axis":{"orient":"bottom","values":[0,90,180,270,360],"tickSize":13,"tickWidth":1.3,"labelFontSize":17,"labelPadding":8,"title":null}},
     "y":{"field":"e","type":"quantitative","scale":{"domain":[0,360],"nice":false},
      "axis":{"orient":"left","values":[0,90,180,270,360],"tickSize":13,"tickWidth":1.3,"labelAngle":270,"labelAlign":"center","labelBaseline":"alphabetic","labelPadding":6,"labelFontSize":17,"title":null}}}},
   {"data":{"name":"cL"},"mark":{"type":"circle","opacity":0},
    "encoding":{"x":{"field":"g","type":"quantitative","axis":{"orient":"bottom","values":[0,30,60,90,120,150,180,210,240,270,300,330,360],"labels":false,"tickSize":5,"tickWidth":1.3,"title":null}},
     "y":{"field":"e","type":"quantitative","axis":{"orient":"left","values":[0,30,60,90,120,150,180,210,240,270,300,330,360],"labels":false,"tickSize":7,"tickWidth":1.3,"title":null}}}},
   {"data":{"name":"rL"},"mark":{"type":"line","color":"#ef45aa","strokeDash":[6,4],"strokeWidth":1.5},
    "encoding":{"x":{"field":"g","type":"quantitative","axis":null},"y":{"field":"e","type":"quantitative","axis":null}}},
   {"data":{"name":"rM"},"mark":{"type":"line","color":"#5de65a","strokeDash":[6,4],"strokeWidth":1.5},
    "encoding":{"x":{"field":"g","type":"quantitative","axis":null},"y":{"field":"e","type":"quantitative","axis":null}}},
   {"data":{"name":"cL"},"mark":{"type":"circle","color":"#ef45aa","size":55,"opacity":1},
    "encoding":{"x":{"field":"g","type":"quantitative","axis":null},"y":{"field":"e","type":"quantitative","axis":null}}},
   {"data":{"name":"cM"},"mark":{"type":"circle","color":"#5de65a","size":55,"opacity":1},
    "encoding":{"x":{"field":"g","type":"quantitative","axis":null},"y":{"field":"e","type":"quantitative","axis":null}}},
   {"data":{"values":[{}]},"mark":{"type":"text","text":"(c)","fontSize":20,"fontWeight":"bold","align":"left","baseline":"middle"},
    "encoding":{"x":{"datum":17,"type":"quantitative","axis":null},"y":{"datum":346.8,"type":"quantitative","axis":null}}},
   {"data":{"values":[{}]},"mark":{"type":"rule","color":"#ef45aa","strokeDash":[5,3],"strokeWidth":1.5},
    "encoding":{"x":{"datum":6.4,"type":"quantitative","axis":null},"x2":{"datum":42.5},"y":{"datum":326.4,"type":"quantitative","axis":null}}},
   {"data":{"values":[{}]},"mark":{"type":"circle","color":"#ef45aa","size":60,"opacity":1},
    "encoding":{"x":{"datum":25.5,"type":"quantitative","axis":null},"y":{"datum":326.4,"type":"quantitative","axis":null}}},
   {"data":{"values":[{}]},"mark":{"type":"rule","color":"#5de65a","strokeDash":[5,3],"strokeWidth":1.5},
    "encoding":{"x":{"datum":6.4,"type":"quantitative","axis":null},"x2":{"datum":42.5},"y":{"datum":301.4,"type":"quantitative","axis":null}}},
   {"data":{"values":[{}]},"mark":{"type":"circle","color":"#5de65a","size":60,"opacity":1},
    "encoding":{"x":{"datum":25.5,"type":"quantitative","axis":null},"y":{"datum":301.4,"type":"quantitative","axis":null}}},
   {"data":{"values":[{}]},"mark":{"type":"text","text":"EVI","fontSize":20,"align":"left","baseline":"middle"},
    "encoding":{"x":{"datum":69,"type":"quantitative","axis":null},"y":{"datum":327,"type":"quantitative","axis":null}}},
   {"data":{"values":[{}]},"mark":{"type":"text","text":"LC8/S2","fontSize":15,"align":"left","baseline":"middle"},
    "encoding":{"x":{"datum":104,"type":"quantitative","axis":null},"y":{"datum":321.5,"type":"quantitative","axis":null}}},
   {"data":{"values":[{}]},"mark":{"type":"text","text":"~ GPP","fontSize":20,"align":"left","baseline":"middle"},
    "encoding":{"x":{"datum":168,"type":"quantitative","axis":null},"y":{"datum":327,"type":"quantitative","axis":null}}},
   {"data":{"values":[{}]},"mark":{"type":"text","text":"EVI","fontSize":20,"align":"left","baseline":"middle"},
    "encoding":{"x":{"datum":69,"type":"quantitative","axis":null},"y":{"datum":302.5,"type":"quantitative","axis":null}}},
   {"data":{"values":[{}]},"mark":{"type":"text","text":"modis","fontSize":15,"align":"left","baseline":"middle"},
    "encoding":{"x":{"datum":104,"type":"quantitative","axis":null},"y":{"datum":297,"type":"quantitative","axis":null}}},
   {"data":{"values":[{}]},"mark":{"type":"text","text":"~ GPP","fontSize":20,"align":"left","baseline":"middle"},
    "encoding":{"x":{"datum":152,"type":"quantitative","axis":null},"y":{"datum":302.5,"type":"quantitative","axis":null}}},
   {"data":{"values":[{}]},"mark":{"type":"text","text":"y = 1.04x","fontSize":20,"color":"#ef45aa","align":"left","baseline":"middle"},
    "encoding":{"x":{"datum":215.6,"type":"quantitative","axis":null},"y":{"datum":137.2,"type":"quantitative","axis":null}}},
   {"data":{"values":[{}]},"mark":{"type":"text","text":"r² = 0.92","fontSize":20,"color":"#ef45aa","align":"left","baseline":"middle"},
    "encoding":{"x":{"datum":216,"type":"quantitative","axis":null},"y":{"datum":102.5,"type":"quantitative","axis":null}}},
   {"data":{"values":[{}]},"mark":{"type":"text","text":"y = 0.98x","fontSize":20,"color":"#5de65a","align":"left","baseline":"middle"},
    "encoding":{"x":{"datum":215.6,"type":"quantitative","axis":null},"y":{"datum":64.9,"type":"quantitative","axis":null}}},
   {"data":{"values":[{}]},"mark":{"type":"text","text":"r² = 0.86","fontSize":20,"color":"#5de65a","align":"left","baseline":"middle"},
    "encoding":{"x":{"datum":216,"type":"quantitative","axis":null},"y":{"datum":31,"type":"quantitative","axis":null}}},
   {"data":{"values":[{}]},"mark":{"type":"text","text":"DOY","fontSize":20,"align":"left","baseline":"alphabetic"},
    "encoding":{"x":{"datum":138,"type":"quantitative","axis":null},"y":{"datum":-59.5,"type":"quantitative","axis":null}}},
   {"data":{"values":[{}]},"mark":{"type":"text","text":"GPP","fontSize":14,"align":"left","baseline":"alphabetic"},
    "encoding":{"x":{"datum":185,"type":"quantitative","axis":null},"y":{"datum":-63.5,"type":"quantitative","axis":null}}},
   {"data":{"values":[{}]},"mark":{"type":"text","text":"DOY","fontSize":20,"align":"left","baseline":"alphabetic","angle":270},
    "encoding":{"x":{"datum":-41.4,"type":"quantitative","axis":null},"y":{"datum":143.8,"type":"quantitative","axis":null}}},
   {"data":{"values":[{}]},"mark":{"type":"text","text":"EVI","fontSize":14,"align":"left","baseline":"alphabetic","angle":270},
    "encoding":{"x":{"datum":-35,"type":"quantitative","axis":null},"y":{"datum":186.1,"type":"quantitative","axis":null}}}
  ],
  "resolve":{"axis":{"x":"independent","y":"independent"}}
 }
],
"spacing":30
}
